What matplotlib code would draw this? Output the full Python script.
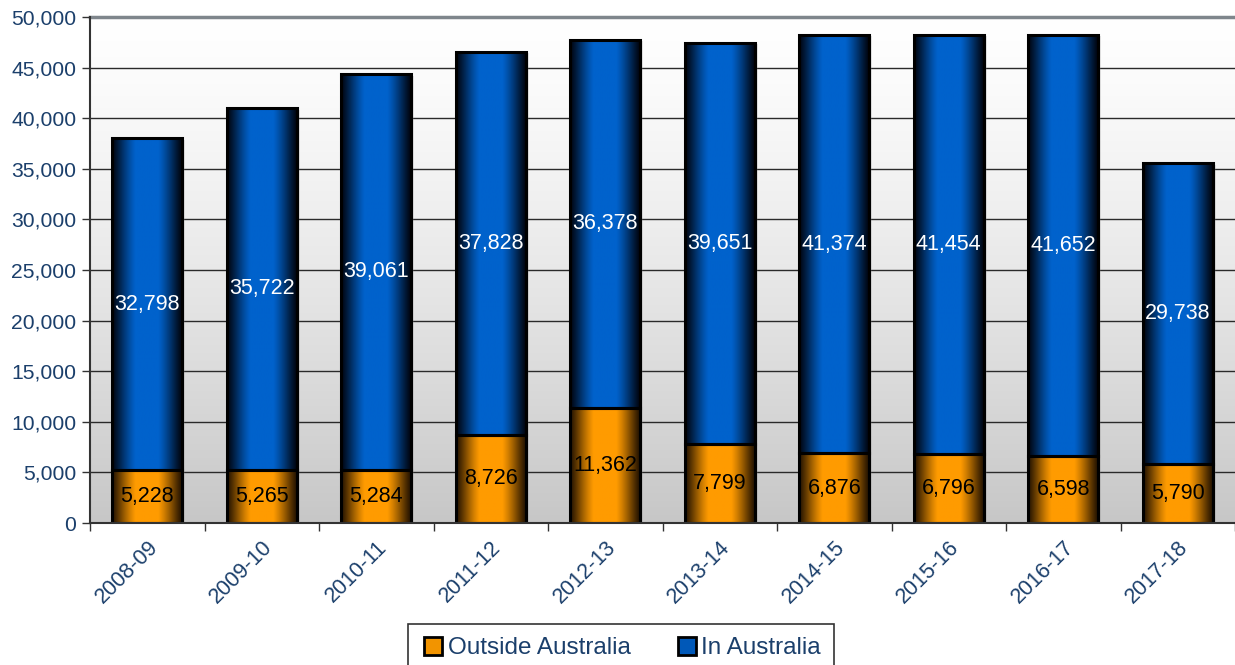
import numpy as np
import matplotlib
matplotlib.use("Agg")
import matplotlib.pyplot as plt
from matplotlib.colors import to_rgb
from matplotlib.lines import Line2D

# data
years = ["2008-09", "2009-10", "2010-11", "2011-12", "2012-13",
         "2013-14", "2014-15", "2015-16", "2016-17", "2017-18"]
outside_aus = [5228, 5265, 5284, 8726, 11362, 7799, 6876, 6796, 6598, 5790]
in_aus = [32798, 35722, 39061, 37828, 36378, 39651, 41374, 41454, 41652, 29738]

plt.rcParams['font.family'] = ['Liberation Sans', 'DejaVu Sans']
navy = "#1B3F6B"

fig = plt.figure(figsize=(12.35, 6.65), dpi=100)
ax = fig.add_axes([0.0729, 0.2135, 0.9271, 0.7609])

ax.set_xlim(-0.5, len(years) - 0.5)
ax.set_ylim(0, 50000)

# background: white at the top fading to light grey
bg = 1.0 - 0.22 * np.linspace(0, 1, 256) ** 1.3
bg = bg.reshape(-1, 1)
ax.imshow(np.dstack([bg, bg, bg]), extent=(-0.5, len(years) - 0.5, 0, 50000),
          aspect='auto', origin='upper', zorder=0)

# gridlines
for yv in range(5000, 50000, 5000):
    ax.axhline(yv, color="#2a2a2a", lw=1.0, zorder=1)
ax.axhline(50000, color="#7f868c", lw=2.5, zorder=1, clip_on=False)


def shaded(color, edge, n=200):
    t = np.linspace(0, 1, n)
    w = np.clip(1.15 * np.sin(np.pi * t), 0, 1) ** 1.2
    c1 = np.array(to_rgb(color))
    c0 = np.array(to_rgb(edge))
    row = c0[None, :] * (1 - w[:, None]) + c1[None, :] * w[:, None]
    return row[None, :, :]


blue_img = shaded("#0062CC", "#000510")
orange_img = shaded("#FF9B00", "#241300")

width = 0.61
x = np.arange(len(years))
for i in x:
    segs = [(0, outside_aus[i], orange_img), (outside_aus[i], in_aus[i], blue_img)]
    for bottom, h, img in segs:
        x0, x1 = i - width / 2, i + width / 2
        # faint shadow
        ax.bar(i + 0.025, h, width, bottom=bottom - 150, color="#8a8a8a",
               alpha=0.2, lw=0, zorder=2)
        ax.imshow(img, extent=(x0, x1, bottom, bottom + h), aspect='auto', zorder=3)
        ax.bar(i, h, width, bottom=bottom, facecolor='none', edgecolor='black',
               lw=2.2, zorder=4)
    ax.text(i, outside_aus[i] / 2, f"{outside_aus[i]:,}", ha='center', va='center',
            fontsize=15.5, color='black', zorder=5)
    ax.text(i, outside_aus[i] + in_aus[i] / 2, f"{in_aus[i]:,}", ha='center',
            va='center', fontsize=15.5, color='white', zorder=5)

# axes styling
for s in ['top', 'right']:
    ax.spines[s].set_visible(False)
for s in ['left', 'bottom']:
    ax.spines[s].set_color("#333333")
    ax.spines[s].set_linewidth(1.5)
    ax.spines[s].set_zorder(6)

ax.set_yticks(range(0, 50001, 5000))
ax.set_yticklabels([f"{v:,}" for v in range(0, 50001, 5000)], fontsize=15.2, color=navy)
ax.tick_params(axis='y', length=6, width=1, color="#333333", pad=4)

ax.set_xticks(x)
ax.set_xticklabels(years, rotation=45, ha='right', rotation_mode='anchor',
                   fontsize=15.5, color=navy)
ax.tick_params(axis='x', which='major', length=0, pad=10)
ax.set_xticks(np.arange(-0.5, len(years), 1), minor=True)
ax.tick_params(axis='x', which='minor', length=6, width=1, color="#333333")

handles = [
    Line2D([], [], marker='s', ls='none', markersize=13, markerfacecolor="#F29400",
           markeredgecolor='black', markeredgewidth=2),
    Line2D([], [], marker='s', ls='none', markersize=13, markerfacecolor="#0058B8",
           markeredgecolor='black', markeredgewidth=2),
]
leg = fig.legend(handles, ["Outside Australia", "In Australia"], loc='lower center',
                 bbox_to_anchor=(0.503, -0.03), ncol=2, fontsize=17.5, frameon=True,
                 fancybox=False, edgecolor='black', handletextpad=0.1,
                 columnspacing=1.8, borderpad=0.55, handlelength=1.0,
                 borderaxespad=0.5)
leg.get_frame().set_linewidth(1.2)
for t in leg.get_texts():
    t.set_color(navy)

fig.savefig("out.png", dpi=100)
